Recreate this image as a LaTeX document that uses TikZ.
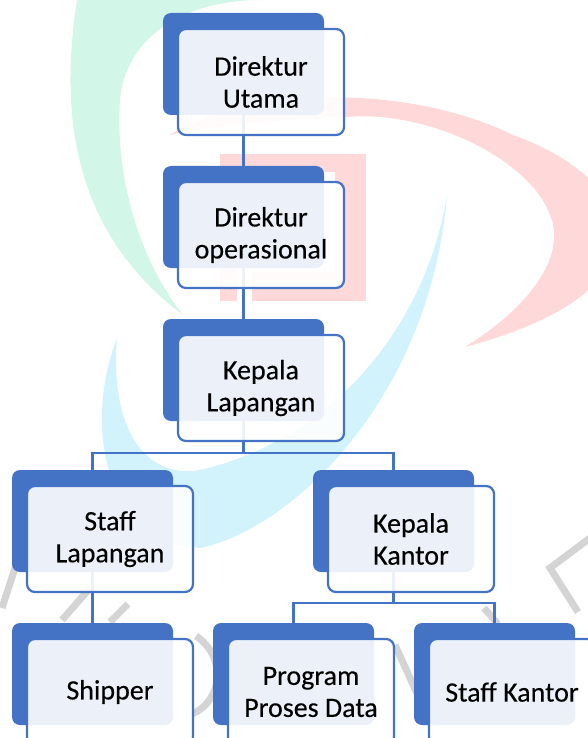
\documentclass[tikz,border=0pt]{standalone}
\usepackage{fontspec}
\setmainfont{Carlito}[FakeBold=0.3]
\usetikzlibrary{positioning}
\definecolor{boxblue}{RGB}{68,114,196}
\definecolor{wmgreen}{RGB}{210,246,232}
\definecolor{wmpink}{RGB}{255,217,217}
\definecolor{wmcyan}{RGB}{210,243,252}
\definecolor{wmgrey}{RGB}{212,212,212}
\tikzset{
	backbox/.style={fill=boxblue, rounded corners=8pt, minimum width=161pt, minimum height=102pt, inner sep=0pt, outer sep=0pt}, % blue card behind each post
	frontbox/.style={draw=boxblue, line width=2.2pt, fill=white, fill opacity=0.9, text opacity=1, rounded corners=8pt, minimum width=166pt, minimum height=106pt, inner sep=0pt, outer sep=0pt, align=center, anchor=north west, font=\fontsize{28}{32}\selectfont}, % card with the post name
	link/.style={draw=boxblue, line width=2.4pt},
	wmstroke/.style={draw=wmgrey, line width=7pt},
}

\begin{document}
\begin{tikzpicture}[x=1pt, y=-1pt]
		\useasboundingbox (0,0) rectangle (587,738);
		% watermark
		\fill[wmgreen] (77,0) .. controls (60,110) and (70,230) .. (183,315) .. controls (140,260) and (115,180) .. (120,100) .. controls (125,40) and (180,0) .. (262,0) -- cycle;
		\fill[wmpink] (170,135) .. controls (240,90) and (400,80) .. (513,135) .. controls (640,180) and (680,290) .. (465,347) .. controls (540,300) and (565,250) .. (550,215) .. controls (530,160) and (430,110) .. (347,117) .. controls (280,120) and (210,125) .. (170,135) -- cycle;
		\fill[wmpink] (220,154) rectangle (366,172);
		\fill[wmpink] (220,154) rectangle (237,301);
		\fill[wmpink] (335,154) rectangle (366,301);
		\fill[wmpink] (252,272) rectangle (366,301);
		\fill[wmcyan] (117,338) .. controls (85,420) and (100,540) .. (200,548) .. controls (290,530) and (430,400) .. (447,195) .. controls (425,330) and (330,440) .. (200,470) .. controls (140,480) and (110,420) .. (117,338) -- cycle;
		\draw[wmstroke] (2,608) -- (20,553);
		\draw[wmstroke] (62,620) -- (90,588);
		\draw[wmstroke] (110,622) -- (128,604);
		\draw[wmstroke] (196,636) .. controls (226,656) and (224,700) .. (192,714);
		\draw[wmstroke] (395,645) -- (420,700);
		\draw[wmstroke] (484,608) -- (498,624);
		\draw[wmstroke] (590,538) -- (550,568) -- (578,612);
		
		% back cards
		\node[backbox, anchor=north west] (dirutBack) at (163,13) {};
		\node[backbox, below=51pt of dirutBack] (diropsBack) {};
		\node[backbox, below=51pt of diropsBack] (kalapBack) {};
		\node[backbox, anchor=north west] (staflapBack) at (12,470) {};
		\node[backbox, anchor=north west] (kakanBack) at (313,470) {};
		\node[backbox, anchor=north west] (shipBack) at (12,623) {};
		\node[backbox, anchor=north west] (ppdBack) at (213,623) {};
		\node[backbox, anchor=north west] (stafkanBack) at (414,623) {};
		
		% connectors
		\draw[link] (dirutBack.south) -- (diropsBack.north);
		\draw[link] (diropsBack.south) -- (kalapBack.north);
		\draw[link] (kalapBack.south) -- ++(0,32) -| (staflapBack.north);
		\draw[link] (kalapBack.south) -- ++(0,32) -| (kakanBack.north);
		\draw[link] (staflapBack.south) -- (shipBack.north);
		\draw[link] (kakanBack.south) -- ++(0,31) -| (ppdBack.north);
		\draw[link] (kakanBack.south) -- ++(0,31) -| (stafkanBack.north);
		
		% front cards
		\node[frontbox] (dirut) at ([shift={(15,16)}]dirutBack.north west) {Direktur\\Utama};
		\node[frontbox] (dirops) at ([shift={(15,16)}]diropsBack.north west) {Direktur\\operasional};
		\node[frontbox] (kalap) at ([shift={(15,16)}]kalapBack.north west) {Kepala\\Lapangan};
		\node[frontbox] (staflap) at ([shift={(15,16)}]staflapBack.north west) {Staff\\Lapangan};
		\node[frontbox] (kakan) at ([shift={(15,16)}]kakanBack.north west) {Kepala\\Kantor};
		\node[frontbox] (ship) at ([shift={(15,16)}]shipBack.north west) {Shipper};
		\node[frontbox] (ppd) at ([shift={(15,16)}]ppdBack.north west) {Program\\Proses Data};
		\node[frontbox] (stafkan) at ([shift={(15,16)}]stafkanBack.north west) {Staff Kantor};
\end{tikzpicture}
\end{document}
